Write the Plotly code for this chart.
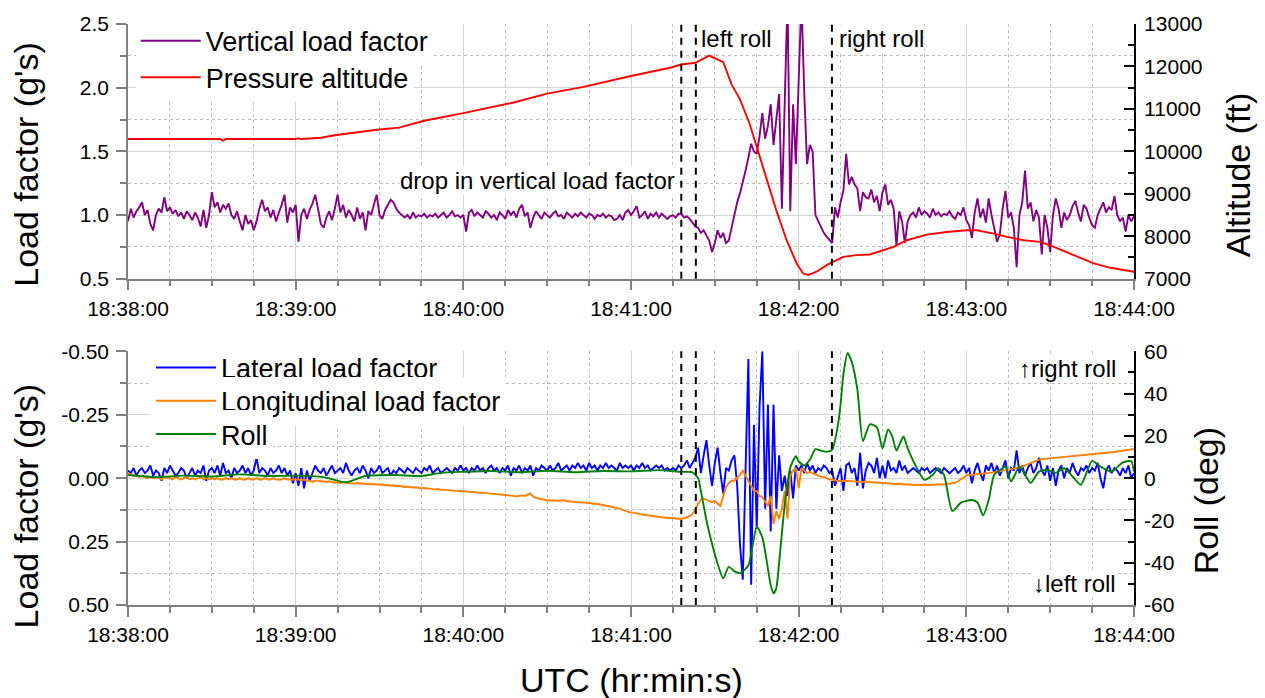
import numpy as np
import pandas as pd
import plotly.graph_objects as go

# ---------------- data (seconds after 18:38:00) ----------------
vertical_load = [
    0.95, 1.05, 0.98, 1.03, 1.06, 1.10, 1.00, 1.04, 0.93, 0.88,
    1.00, 1.05, 1.02, 1.14, 1.03, 1.06, 1.01, 1.04, 0.99, 1.02,
    0.97, 1.03, 1.00, 0.96, 1.02, 0.98, 0.91, 1.04, 0.90, 1.00,
    1.18, 1.06, 1.10, 1.02, 1.08, 1.05, 1.09, 1.00, 0.97, 1.03,
    0.95, 0.88, 1.00, 0.93, 0.96, 0.88, 0.95, 1.05, 1.12, 1.03,
    1.06, 0.98, 1.04, 0.95, 1.02, 1.08, 1.16, 0.94, 1.06, 1.02,
    1.08, 0.79, 1.00, 1.05, 0.97, 1.04, 1.09, 1.16, 1.05, 0.93,
    0.90, 0.98, 1.03, 0.96, 1.05, 1.16, 1.02, 1.08, 0.98, 1.04,
    1.00, 0.95, 1.06, 0.97, 1.02, 0.88, 1.03, 1.00, 1.08, 1.16,
    1.00, 0.97, 1.04, 1.08, 1.12, 1.10, 1.05, 1.02, 1.00, 0.98,
    1.00, 0.97, 1.02, 0.98, 1.00, 0.99, 1.01, 0.98, 1.00, 0.99,
    1.01, 0.98, 1.00, 1.02, 0.98, 1.00, 1.03, 0.99, 1.00, 0.98,
    1.00, 0.87, 1.02, 1.04, 0.99, 1.02, 1.00, 0.98, 1.03, 1.01,
    0.98, 1.00, 0.96, 1.02, 1.00, 0.97, 1.04, 1.00, 1.03, 0.98,
    1.05, 1.08, 0.99, 1.02, 0.90, 0.98, 1.03, 1.00, 0.97, 1.02,
    1.00, 0.98, 1.01, 1.03, 0.99, 1.00, 0.97, 1.02, 1.00, 0.98,
    1.01, 0.99, 1.02, 1.00, 0.98, 1.01, 1.00, 0.97, 1.00, 0.99,
    1.01, 0.98, 1.00, 0.99, 0.96, 0.97, 1.00, 0.96, 1.02, 1.04,
    1.00, 1.03, 1.07, 0.98, 1.00, 1.03, 0.97, 1.01, 0.99, 1.02,
    0.98, 1.01, 0.99, 0.97, 0.99, 1.00, 0.98, 1.01, 1.01, 0.98,
    0.99, 0.97, 0.94, 0.91, 0.90, 0.86, 0.88, 0.84, 0.80, 0.71,
    0.78, 0.88, 0.82, 0.86, 0.78, 0.80, 0.90, 1.01, 1.10, 1.17,
    1.25, 1.35, 1.45, 1.56, 1.50, 1.48, 1.62, 1.80, 1.60, 1.70,
    1.87, 1.55, 1.75, 1.95, 1.05, 1.90, 2.70, 1.03, 1.87, 1.40,
    2.10, 2.70, 1.96, 1.40, 1.55, 1.50, 1.00, 0.95, 0.91, 0.86,
    0.83, 0.80, 0.78, 1.06, 0.98, 1.10, 1.19, 1.48, 1.24, 1.30,
    1.24, 1.21, 1.03, 1.18, 1.14, 1.13, 1.20, 1.10, 1.15, 1.03,
    1.18, 1.24, 1.08, 1.12, 1.05, 0.76, 1.03, 0.95, 0.78, 0.95,
    1.00, 1.02, 0.98, 1.06, 1.00, 1.03, 1.01, 0.98, 1.05, 1.00,
    1.02, 0.99, 1.01, 1.00, 1.03, 0.99, 0.97, 1.02, 1.00, 1.06,
    0.96, 0.92, 0.82, 1.02, 1.13, 0.98, 1.05, 0.94, 1.13, 1.00,
    0.88, 0.79, 0.85, 1.05, 1.19, 0.98, 1.02, 0.90, 0.59, 1.00,
    1.10, 1.35, 1.05, 1.10, 0.95, 1.04, 0.98, 0.69, 1.00, 0.90,
    0.71, 1.00, 1.13, 1.05, 0.90, 1.02, 0.96, 1.00, 1.07, 1.11,
    1.02, 0.95, 1.08, 1.05, 0.98, 0.92, 0.90, 1.00, 1.05, 1.10,
    1.02, 1.06, 1.04, 1.15, 1.00, 0.95, 0.98, 0.87, 1.00, 0.95,
    0.99,
]

lateral_load = [
    -0.03, -0.02, -0.04, -0.01, -0.03, -0.04, -0.02, -0.03, -0.05, -0.01,
    -0.03, -0.02, 0.01, -0.04, -0.02, -0.05, -0.03, -0.01, -0.02, -0.04,
    -0.03, 0.00, -0.02, -0.04, -0.01, -0.03, -0.02, -0.05, 0.01, -0.03,
    -0.04, -0.02, -0.05, -0.01, -0.06, -0.02, -0.03, 0.00, -0.04, -0.02,
    -0.03, -0.05, -0.02, -0.04, -0.01, -0.03, -0.08, -0.02, -0.04, -0.03,
    -0.01, -0.04, -0.02, -0.03, -0.05, -0.02, -0.04, -0.01, -0.03, 0.02,
    -0.02, 0.03, -0.04, 0.04, -0.03, 0.01, -0.02, -0.05, -0.03, -0.02,
    -0.04, -0.01, -0.03, -0.05, -0.02, -0.03, -0.04, -0.02, -0.06, -0.03,
    -0.01, -0.03, -0.04, -0.02, -0.05, -0.03, 0.00, -0.04, -0.02, -0.03,
    -0.05, -0.02, -0.03, -0.04, -0.01, -0.03, -0.02, -0.04, -0.03, -0.02,
    -0.04, -0.03, -0.02, -0.04, -0.03, -0.02, -0.04, -0.03, -0.05, -0.02,
    -0.03, -0.04, -0.02, -0.03, -0.04, -0.03, -0.02, -0.04, -0.03, -0.05,
    -0.03, -0.04, -0.02, -0.04, -0.03, -0.05, -0.03, -0.04, -0.02, -0.04,
    -0.05, -0.03, -0.04, -0.02, -0.04, -0.03, -0.05, -0.01, -0.04, -0.03,
    -0.05, -0.02, -0.04, -0.03, -0.05, -0.01, -0.04, -0.03, -0.05, -0.04,
    -0.03, -0.05, -0.03, -0.04, -0.06, -0.03, -0.04, -0.05, -0.03, -0.05,
    -0.04, -0.06, -0.04, -0.05, -0.03, -0.06, -0.04, -0.05, -0.03, -0.05,
    -0.04, -0.06, -0.04, -0.05, -0.04, -0.03, -0.06, -0.04, -0.05, -0.04,
    -0.05, -0.03, -0.05, -0.04, -0.06, -0.04, -0.05, -0.03, -0.04, -0.05,
    -0.04, -0.05, -0.03, -0.04, -0.03, -0.04, -0.03, -0.05, -0.04, -0.05,
    -0.07, -0.04, -0.06, -0.08, -0.12, -0.02, -0.09, -0.15, -0.05, 0.03,
    -0.06, -0.12, -0.02, 0.06, -0.04, -0.03, -0.07, -0.09, 0.03, 0.26,
    0.40, -0.05, -0.47, 0.42, -0.21, 0.20, -0.28, -0.50, 0.12, -0.29,
    0.21, -0.29, 0.12, -0.09, 0.05, -0.01, 0.07, -0.03, 0.08, -0.05,
    -0.03, -0.05, -0.02, -0.06, -0.03, -0.05, -0.02, -0.04, -0.03, -0.05,
    -0.04, -0.02, -0.03, 0.03, -0.01, -0.04, 0.05, -0.05, -0.06, -0.02,
    -0.04, 0.03, -0.10, 0.04, -0.03, -0.06, -0.05, -0.02, -0.08, 0.00,
    -0.05, 0.00, -0.07, -0.03, -0.04, -0.02, -0.07, -0.03, -0.05, -0.02,
    -0.03, -0.04, -0.03, -0.02, -0.04, -0.03, -0.04, -0.02, -0.03, -0.04,
    -0.03, -0.02, -0.04, -0.03, -0.02, -0.03, -0.04, -0.02, -0.03, -0.05,
    -0.02, -0.04, 0.02, -0.03, -0.06, -0.02, 0.01, -0.05, -0.03, -0.06,
    -0.02, -0.05, -0.01, -0.04, -0.07, 0.00, -0.04, -0.03, -0.11, -0.02,
    -0.05, -0.01, -0.04, -0.06, -0.02, -0.04, -0.08, -0.03, -0.01, -0.05,
    0.01, -0.04, 0.03, -0.03, -0.05, 0.00, -0.04, -0.02, -0.06, -0.03,
    -0.01, -0.04, -0.03, -0.05, -0.02, -0.04, -0.03, -0.06, 0.00, 0.04,
    -0.03, -0.05, -0.02, -0.04, -0.03, -0.01, -0.04, -0.02, -0.05, 0.00,
    -0.02,
]

longitudinal_load = [
    -0.02, -0.015, -0.01, -0.01, -0.005, -0.01, -0.005, 0.0, -0.005, 0.0,
    -0.005, 0.0, 0.005, -0.005, 0.0, 0.0, 0.005, -0.005, 0.0, 0.005,
    0.0, -0.005, 0.005, 0.0, 0.005, 0.0, -0.005, 0.005, 0.0, 0.005,
    0.0, 0.005, 0.0, 0.005, 0.005, 0.0, 0.005, 0.0, 0.005, 0.005,
    0.0, 0.005, 0.005, 0.0, 0.005, 0.005, 0.0, 0.005, 0.005, 0.0,
    0.005, 0.005, 0.0, 0.005, 0.005, 0.005, 0.0, 0.005, 0.005, 0.005,
    0.005, 0.005, 0.01, 0.005, 0.01, 0.01, 0.015, 0.01, 0.01, 0.012,
    0.012, 0.015, 0.012, 0.015, 0.018, 0.015, 0.02, 0.016, 0.018, 0.018,
    0.02, 0.022, 0.018, 0.022, 0.02, 0.024, 0.022, 0.025, 0.023, 0.025,
    0.026, 0.025, 0.028, 0.027, 0.03, 0.028, 0.031, 0.03, 0.033, 0.035,
    0.034, 0.036, 0.037, 0.036, 0.039, 0.04, 0.039, 0.041, 0.042, 0.043,
    0.044, 0.043, 0.046, 0.045, 0.047, 0.048, 0.049, 0.05, 0.049, 0.052,
    0.051, 0.053, 0.054, 0.055, 0.054, 0.057, 0.058, 0.057, 0.06, 0.06,
    0.061, 0.062, 0.064, 0.063, 0.065, 0.066, 0.067, 0.069, 0.07, 0.072,
    0.071, 0.068, 0.07, 0.065, 0.06, 0.072, 0.078, 0.08, 0.083, 0.085,
    0.088, 0.087, 0.088, 0.09, 0.089, 0.088, 0.087, 0.09, 0.092, 0.093,
    0.094, 0.095, 0.094, 0.096, 0.097, 0.098, 0.099, 0.1, 0.102, 0.104,
    0.106, 0.108, 0.11, 0.112, 0.115, 0.118, 0.12, 0.125, 0.13, 0.133,
    0.135, 0.138, 0.14, 0.141, 0.143, 0.145, 0.146, 0.148, 0.15, 0.151,
    0.153, 0.154, 0.155, 0.156, 0.157, 0.158, 0.16, 0.16, 0.161, 0.158,
    0.155, 0.15, 0.142, 0.125, 0.101, 0.085, 0.08, 0.085, 0.09, 0.095,
    0.09, 0.1, 0.11, 0.07, 0.036, 0.02, 0.01, 0.01, 0.0, -0.013,
    -0.03, -0.01, 0.01, 0.03, 0.05, 0.05, 0.07, 0.075, 0.09, 0.11,
    0.07, 0.18, 0.13, 0.16, 0.12, 0.05, 0.16, -0.01, -0.03, -0.04,
    0.04, -0.04, -0.03, -0.02, -0.025, -0.02, -0.015, -0.01, -0.005, -0.005,
    0.0, 0.005, 0.005, 0.01, 0.012, 0.01, 0.01, 0.012, 0.01, 0.012,
    0.013, 0.012, 0.014, 0.015, 0.013, 0.015, 0.016, 0.015, 0.017, 0.018,
    0.018, 0.02, 0.019, 0.021, 0.022, 0.023, 0.022, 0.024, 0.025, 0.025,
    0.026, 0.025, 0.026, 0.027, 0.026, 0.027, 0.026, 0.027, 0.026, 0.025,
    0.025, 0.024, 0.025, 0.023, 0.022, 0.02, 0.018, 0.012, 0.005, -0.005,
    -0.01, -0.012, -0.013, -0.014, -0.015, -0.016, -0.017, -0.018, -0.02, -0.021,
    -0.023, -0.025, -0.027, -0.029, -0.031, -0.033, -0.035, -0.037, -0.039, -0.041,
    -0.045, -0.05, -0.055, -0.06, -0.065, -0.07, -0.073, -0.075, -0.076, -0.077,
    -0.078, -0.079, -0.08, -0.08, -0.081, -0.082, -0.083, -0.085, -0.086, -0.087,
    -0.088, -0.089, -0.09, -0.091, -0.092, -0.093, -0.094, -0.095, -0.096, -0.097,
    -0.098, -0.1, -0.101, -0.103, -0.105, -0.107, -0.109, -0.111, -0.113, -0.114,
    -0.115,
]

altitude_sec = [0, 33, 34, 35, 60, 61, 62, 69, 74, 89,
                97, 106, 120, 138, 150, 163, 180, 184, 194, 198,
                203, 208, 211.5, 213, 216, 219, 222.5, 225.5, 228.5, 232,
                235.7, 239.3, 241.6, 243.4, 246.4, 250, 252.3, 256, 260.7, 265.5,
                273.9, 278.7, 285.8, 293, 300.2, 303.8, 309.8, 314.5, 320.5, 326.5,
                331.3, 338.4, 345.6, 351.6, 360]
altitude_ft = [10290, 10290, 10250, 10290, 10290, 10310, 10290, 10320, 10380, 10510,
               10560, 10720, 10900, 11150, 11360, 11520, 11775, 11830, 11970, 12046,
               12086, 12257, 12140, 12100, 11578, 11226, 10640, 10016, 9390, 8610,
               7906, 7359, 7125, 7086, 7164, 7320, 7398, 7515, 7555, 7570,
               7750, 7906, 8039, 8101, 8140, 8140, 8062, 7984, 7906, 7867,
               7750, 7555, 7360, 7257, 7164]

roll_sec = [0, 10, 20, 30, 40, 50, 60, 70, 78, 85,
            95, 105, 112, 120, 130, 140, 150, 160, 170, 180,
            190, 198, 202, 204, 205, 207, 209, 211, 213, 215,
            217, 219, 222, 225, 227, 230, 231, 232, 233, 235,
            237, 239, 240, 242, 244, 246, 248, 250, 252, 254,
            255, 256, 257.5, 259, 261, 263, 265.5, 268, 270, 272,
            273.5, 275, 277.5, 279, 283, 285, 288, 290, 292, 295,
            298, 302, 304, 306, 308, 310, 313, 314, 316, 319,
            321, 323, 326, 329, 332, 335, 338, 341, 345, 348,
            352, 356, 359, 360]
roll_deg = [1.5, 0.5, 1.2, 0.8, 1.8, 1.0, 1.2, 0.5, -1.9, 1.0,
            1.5, 1.0, 2.5, 3.0, 3.4, 2.8, 3.5, 2.8, 3.4, 3.2,
            3.8, 3.0, 2.8, 0.0, -6, -20, -31, -40.5, -47.4, -42,
            -44, -45, -41.2, -23, -28, -50.6, -54.6, -52, -40, -12.8,
            5, 10.4, 8, 6, 8.7, 13.7, 13, 12.5, 13.5, 24.7,
            35, 49, 59.2, 55, 42, 17.6, 25.5, 24, 14.1, 23.1,
            19.7, 13, 19.7, 14.1, 3.1, -0.8, 1.6, 4.7, 1.6, -15.6,
            -11.7, -10.3, -11.5, -17.6, -10.3, 1.6, 4.7, 5.5, -1.6, 5.5,
            1.6, -2.3, 3.1, 4.0, 2.5, 4.7, 0.8, -3.1, 8.2, 5.5,
            3.1, 7.5, 8.0, 3.1]

event_sec = [198.0, 203.2, 251.9]

load_top_ticks = [0.5, 1.0, 1.5, 2.0, 2.5]
load_top_text = ["0.5", "1.0", "1.5", "2.0", "2.5"]
alt_ticks = [7000, 8000, 9000, 10000, 11000, 12000, 13000]
alt_text = ["7000", "8000", "9000", "10000", "11000", "12000", "13000"]
load_bot_ticks = [-0.5, -0.25, 0.0, 0.25, 0.5]
load_bot_text = ["-0.50", "-0.25", "0.00", "0.25", "0.50"]
roll_ticks = [-60, -40, -20, 0, 20, 40, 60]
roll_text = ["-60", "-40", "-20", "0", "20", "40", "60"]

# ---------------- helpers ----------------
BASE = pd.Timestamp("2000-01-01 18:38:00")


def ts(sec):
    return BASE + pd.to_timedelta(np.asarray(sec, dtype=float), unit="s")


def tstr(sec):
    return (BASE + pd.Timedelta(seconds=float(sec))).strftime("%Y-%m-%d %H:%M:%S.%f")


x_start = BASE.strftime("%Y-%m-%d %H:%M:%S")
x_end = (BASE + pd.Timedelta(seconds=360)).strftime("%Y-%m-%d %H:%M:%S")
t_fast = np.arange(len(vertical_load))
t_lat = np.arange(len(lateral_load))
t_lon = np.arange(len(longitudinal_load))

FONT = "Arial, 'Liberation Sans', sans-serif"
AXIS_GRAY = "#7f7f7f"
GRID = "#d4d4d4"
GRID_MINOR = "#bdbdbd"

fig = go.Figure()

fig.add_trace(go.Scatter(x=ts(t_fast), y=vertical_load, name="Vertical load factor",
                         mode="lines", line=dict(color="#800080", width=1.9),
                         xaxis="x", yaxis="y", legend="legend"))
fig.add_trace(go.Scatter(x=ts(altitude_sec), y=altitude_ft, name="Pressure altitude",
                         mode="lines", line=dict(color="#ff0000", width=1.9),
                         xaxis="x", yaxis="y2", legend="legend2"))
fig.add_trace(go.Scatter(x=ts(t_lat), y=lateral_load, name="Lateral load factor",
                         mode="lines", line=dict(color="#0000ff", width=1.9),
                         xaxis="x2", yaxis="y3", legend="legend3"))
fig.add_trace(go.Scatter(x=ts(t_lon), y=longitudinal_load, name="Longitudinal load factor",
                         mode="lines", line=dict(color="#ff8000", width=1.9),
                         xaxis="x2", yaxis="y3", legend="legend4"))
fig.add_trace(go.Scatter(x=ts(roll_sec), y=roll_deg, name="Roll",
                         mode="lines", line=dict(color="#008000", width=1.9, shape="spline", smoothing=0.6),
                         xaxis="x2", yaxis="y4", legend="legend5"))


def xaxis_cfg(anchor):
    return dict(
        type="date", range=[x_start, x_end], anchor=anchor, domain=[0, 1],
        tick0=x_start, dtick=60000, tickformat="%H:%M:%S",
        showline=True, linecolor=AXIS_GRAY, linewidth=1.5,
        ticks="outside", ticklen=10, tickwidth=1.5, tickcolor=AXIS_GRAY,
        showgrid=True, gridcolor=GRID, gridwidth=1.3, zeroline=False,
        tickfont=dict(size=21, color="black", family=FONT),
        minor=dict(tick0=x_start, dtick=15000, ticks="outside", ticklen=6,
                   tickwidth=1.5, tickcolor=AXIS_GRAY, showgrid=True,
                   gridcolor=GRID_MINOR, griddash="dot", gridwidth=1),
    )


def left_cfg(domain, anchor, rng, tv, tt, minor_step, minor0):
    return dict(
        domain=domain, anchor=anchor, range=rng, tickmode="array", tickvals=tv, ticktext=tt,
        showline=True, linecolor=AXIS_GRAY, linewidth=1.5,
        ticks="outside", ticklen=10, tickwidth=1.5, tickcolor=AXIS_GRAY,
        showgrid=True, gridcolor=GRID, gridwidth=1.3, zeroline=False,
        tickfont=dict(size=21, color="black", family=FONT), ticklabelstandoff=3,
        minor=dict(tick0=minor0, dtick=minor_step, ticks="outside", ticklen=6,
                   tickwidth=1.5, tickcolor=AXIS_GRAY, showgrid=True,
                   gridcolor=GRID_MINOR, griddash="dot", gridwidth=1),
    )


def right_cfg(overlay, anchor, rng, tv, tt, minor_step, minor0):
    return dict(
        overlaying=overlay, anchor=anchor, side="right", range=rng,
        tickmode="array", tickvals=tv, ticktext=tt,
        showline=True, linecolor="black", linewidth=1.8,
        ticks="inside", ticklen=10, tickwidth=1.8, tickcolor="black",
        showgrid=False, zeroline=False, ticklabelstandoff=4,
        tickfont=dict(size=21, color="black", family=FONT),
        minor=dict(tick0=minor0, dtick=minor_step, ticks="inside", ticklen=6,
                   tickwidth=1.8, tickcolor="black", showgrid=False),
    )


def legend_cfg(x, y):
    return dict(x=x, y=y, xanchor="left", yanchor="top", bgcolor="white",
                borderwidth=0, font=dict(size=27, family=FONT, color="black"),
                itemwidth=60, tracegroupgap=0)


TOP_DOM = [0.5616, 1.0]
BOT_DOM = [0.0, 0.4366]

fig.update_layout(
    width=1265, height=698,
    margin=dict(l=128, r=131, t=21, b=93),
    paper_bgcolor="white", plot_bgcolor="white",
    font=dict(family=FONT, color="black"),
    xaxis=xaxis_cfg("y"),
    xaxis2=xaxis_cfg("y3"),
    yaxis=left_cfg(TOP_DOM, "x", [0.5, 2.5], load_top_ticks, load_top_text, 0.25, 0.5),
    yaxis2=right_cfg("y", "x", [7000, 13000], alt_ticks, alt_text, 500, 7000),
    yaxis3=left_cfg(BOT_DOM, "x2", [0.5, -0.5], load_bot_ticks, load_bot_text, 0.125, 0),
    yaxis4=right_cfg("y3", "x2", [-60, 60], roll_ticks, roll_text, 10, 0),
    showlegend=True,
    legend=legend_cfg(0.0077, 1.0125),
    legend2=legend_cfg(0.0077, 0.9498),
    legend3=legend_cfg(0.0229, 0.4503),
    legend4=legend_cfg(0.0229, 0.3930),
    legend5=legend_cfg(0.0229, 0.3356),
)

# event markers (dashed vertical lines) in both panels
shapes = []
for s in event_sec:
    for yref in ("y domain", "y3 domain"):
        shapes.append(dict(type="line", xref="x", x0=tstr(s), x1=tstr(s), yref=yref, y0=0, y1=1,
                           line=dict(color="black", width=2, dash="7px,6px"), layer="above"))
fig.update_layout(shapes=shapes)

ann_font = dict(size=24, family=FONT, color="black")
title_font = dict(size=34, family=FONT, color="black")
annotations = [
    dict(text="left roll", x=tstr(204.6), y=2.39, xref="x", yref="y", xanchor="left", yanchor="middle",
         showarrow=False, font=ann_font, bgcolor="white", borderpad=0),
    dict(text="right roll", x=tstr(254.0), y=2.39, xref="x", yref="y", xanchor="left", yanchor="middle",
         showarrow=False, font=ann_font, bgcolor="white", borderpad=0),
    dict(text="drop in vertical load factor", x=tstr(196.1), y=1.27, xref="x", yref="y",
         xanchor="right", yanchor="middle", showarrow=False, font=ann_font, bgcolor="white", borderpad=0),
    dict(text="\u2191right roll", x=tstr(353.8), y=52, xref="x2", yref="y4", xanchor="right",
         yanchor="middle", showarrow=False, font=ann_font, bgcolor="white", borderpad=0),
    dict(text="\u2193left roll", x=tstr(353.8), y=-49.7, xref="x2", yref="y4", xanchor="right",
         yanchor="middle", showarrow=False, font=ann_font, bgcolor="white", borderpad=0),
    # axis titles
    dict(text="Load factor (g's)", x=-0.1016, y=0.7591, xref="paper", yref="paper", textangle=-90,
         xanchor="center", yanchor="middle", showarrow=False, font=title_font),
    dict(text="Load factor (g's)", x=-0.1016, y=0.171, xref="paper", yref="paper", textangle=-90,
         xanchor="center", yanchor="middle", showarrow=False, font=title_font),
    dict(text="Altitude (ft)", x=1.1029, y=0.739, xref="paper", yref="paper", textangle=-90,
         xanchor="center", yanchor="middle", showarrow=False, font=title_font),
    dict(text="Roll (deg)", x=1.0714, y=0.1798, xref="paper", yref="paper", textangle=-90,
         xanchor="center", yanchor="middle", showarrow=False, font=title_font),
    dict(text="UTC (hr:min:s)", x=0.5, y=-0.1284, xref="paper", yref="paper",
         xanchor="center", yanchor="middle", showarrow=False, font=title_font),
]
fig.update_layout(annotations=annotations)

fig.write_html("out.html")
